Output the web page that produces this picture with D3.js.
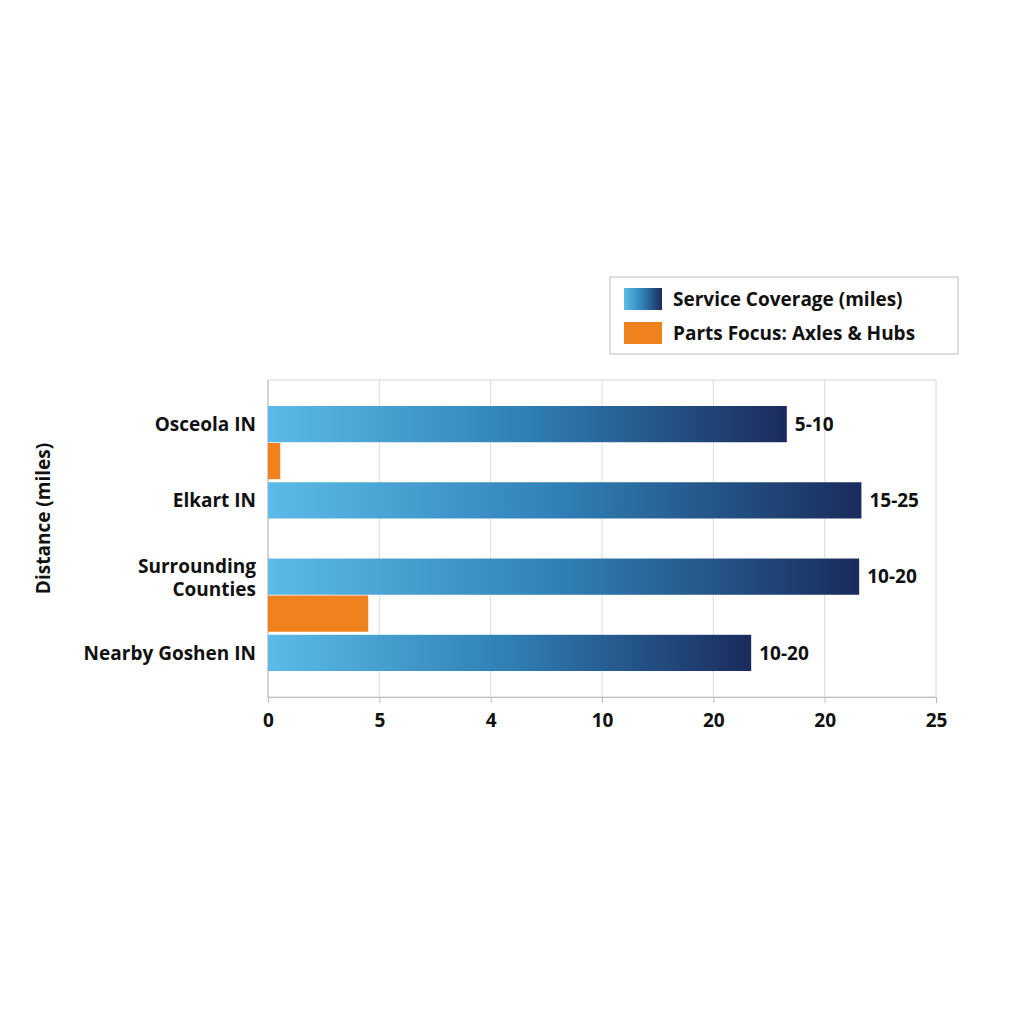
<!DOCTYPE html>
<html>
<head>
<meta charset="utf-8">
<script src="https://cdn.jsdelivr.net/npm/d3@7"></script>
<style>
  body { margin: 0; background: #fff; }
  text { font-family: "Open Sans", "Noto Sans", sans-serif; font-weight: bold; fill: #111; }
</style>
</head>
<body>
<script>
// Categories, top to bottom.
const categories = ["Osceola IN", "Elkart IN", "Surrounding Counties", "Nearby Goshen IN"];
const categoryLines = [["Osceola IN"], ["Elkart IN"], ["Surrounding", "Counties"], ["Nearby Goshen IN"]];

// Series values (position along the evenly spaced axis).
const coverage = [4.66, 5.33, 5.31, 4.34];
const coverageLabels = ["5-10", "15-25", "10-20", "10-20"];
const partsFocus = [0.11, 0, 0.9, 0];

// Tick labels as printed on the axis.
const tickLabels = ["0", "5", "4", "10", "20", "20", "25"];

const series = ["Service Coverage (miles)", "Parts Focus: Axles & Hubs"];

const svg = d3.select("body").append("svg")
    .attr("width", 1024).attr("height", 1024);

const defs = svg.append("defs");
const grad = defs.append("linearGradient").attr("id", "blueGrad")
    .attr("x1", "0%").attr("x2", "100%").attr("y1", "0%").attr("y2", "0%");
grad.append("stop").attr("offset", "0%").attr("stop-color", "#5cbbe8");
grad.append("stop").attr("offset", "50%").attr("stop-color", "#2f7fb5");
grad.append("stop").attr("offset", "100%").attr("stop-color", "#1a2b5c");

const plotLeft = 268, plotRight = 936, plotTop = 380, plotBottom = 697;

const x = d3.scaleLinear().domain([0, tickLabels.length - 1]).range([plotLeft, plotRight]);
const y = d3.scaleBand().domain(categories).range([406, 708]).paddingInner(0.04);
const sub = d3.scaleBand().domain(["blue", "orange"]).range([0, y.bandwidth()]).paddingInner(0.02);

// Plot frame and grid.
svg.append("rect")
    .attr("x", plotLeft).attr("y", plotTop)
    .attr("width", plotRight - plotLeft).attr("height", plotBottom - plotTop)
    .attr("fill", "none").attr("stroke", "#d6d6d6");

svg.append("g").selectAll("line")
    .data(d3.range(1, tickLabels.length - 1))
    .join("line")
    .attr("x1", d => x(d)).attr("x2", d => x(d))
    .attr("y1", plotTop).attr("y2", plotBottom)
    .attr("stroke", "#dcdcdc");

// Bottom axis.
const xAxis = svg.append("g")
    .attr("transform", `translate(0,${plotBottom})`)
    .call(d3.axisBottom(x).ticks(tickLabels.length - 1).tickSize(6)
        .tickFormat((d, i) => tickLabels[i]));
xAxis.select(".domain").attr("stroke", "#bbb");
xAxis.selectAll(".tick line").attr("stroke", "#bbb");
xAxis.selectAll("text").attr("font-size", 19).attr("dy", "1.1em")
    .style("font-family", "'Open Sans', sans-serif").style("font-weight", "bold").attr("fill", "#111");

svg.append("line")
    .attr("x1", plotLeft).attr("x2", plotLeft).attr("y1", plotTop).attr("y2", plotBottom)
    .attr("stroke", "#bbb");

// Blue bars.
svg.append("g").selectAll("rect")
    .data(categories)
    .join("rect")
    .attr("x", x(0))
    .attr("y", d => y(d) + sub("blue"))
    .attr("width", (d, i) => x(coverage[i]) - x(0))
    .attr("height", sub.bandwidth())
    .attr("fill", "url(#blueGrad)");

// Orange bars.
svg.append("g").selectAll("rect")
    .data(categories)
    .join("rect")
    .attr("x", x(0))
    .attr("y", d => y(d) + sub("orange"))
    .attr("width", (d, i) => x(partsFocus[i]) - x(0))
    .attr("height", sub.bandwidth())
    .attr("fill", "#f0821e");

// Value labels.
svg.append("g").selectAll("text")
    .data(categories)
    .join("text")
    .attr("x", (d, i) => x(coverage[i]) + 8)
    .attr("y", d => y(d) + sub("blue") + sub.bandwidth() / 2)
    .attr("dy", "0.35em")
    .attr("font-size", 19)
    .text((d, i) => coverageLabels[i]);

// Category labels.
const catG = svg.append("g").selectAll("text")
    .data(categories)
    .join("text")
    .attr("text-anchor", "end")
    .attr("x", plotLeft - 12)
    .attr("y", d => y(d) + sub("blue") + sub.bandwidth() / 2)
    .attr("font-size", 19);
catG.each(function (d, i) {
    const lines = categoryLines[i];
    d3.select(this).selectAll("tspan")
        .data(lines)
        .join("tspan")
        .attr("x", plotLeft - 12)
        .attr("dy", (l, j) => j === 0 ? (0.35 - (lines.length - 1) * 0.55) + "em" : "1.2em")
        .text(l => l);
});

// Y axis title.
svg.append("text")
    .attr("transform", `translate(50,${(plotTop + plotBottom) / 2 - 20}) rotate(-90)`)
    .attr("text-anchor", "middle")
    .attr("font-size", 19)
    .text("Distance (miles)");

// Legend.
const legend = svg.append("g").attr("transform", "translate(610,277)");
legend.append("rect").attr("width", 348).attr("height", 77)
    .attr("fill", "#fff").attr("stroke", "#bbb");
legend.selectAll(".sw")
    .data(series)
    .join("rect")
    .attr("x", 14).attr("y", (d, i) => 11 + i * 34)
    .attr("width", 38).attr("height", 22)
    .attr("fill", (d, i) => i === 0 ? "url(#blueGrad)" : "#f0821e");
legend.selectAll(".lt")
    .data(series)
    .join("text")
    .attr("x", 63).attr("y", (d, i) => 22 + i * 34)
    .attr("dy", "0.35em")
    .attr("font-size", 19)
    .text(d => d);
</script>
</body>
</html>
